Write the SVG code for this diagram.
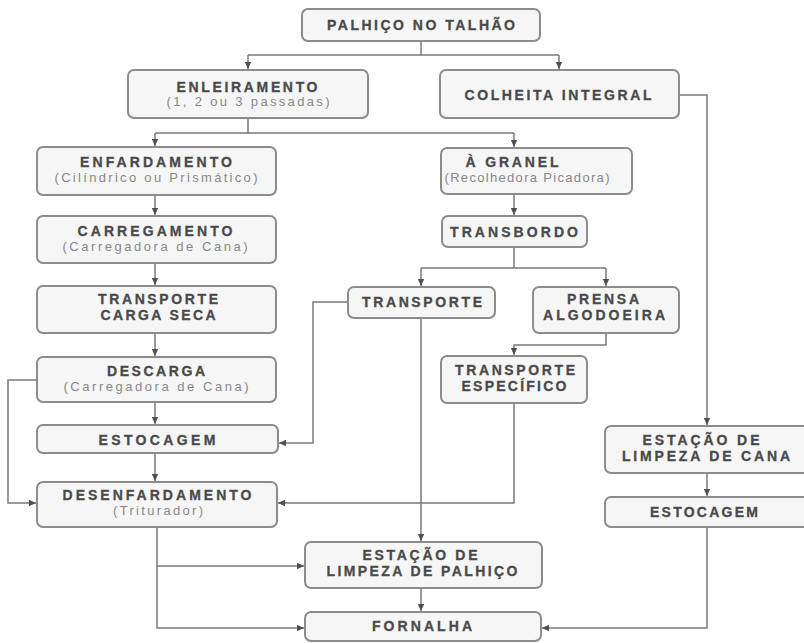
<svg xmlns="http://www.w3.org/2000/svg" width="804" height="643" viewBox="0 0 804 643">
<style>
.box{fill:#f6f6f6;stroke:#8c8c8c;stroke-width:2}
.t{font-family:"Liberation Sans",Arial,sans-serif;font-weight:bold;font-size:14px;fill:#4a4a4a;stroke:#4a4a4a;stroke-width:0.3;text-anchor:middle}
.s{font-family:"Liberation Sans",Arial,sans-serif;font-size:13px;fill:#888888;text-anchor:middle}
.c{fill:none;stroke:#7a7a7a;stroke-width:1.5}
</style>
<defs>
<marker id="ah" markerUnits="userSpaceOnUse" markerWidth="8" markerHeight="8" viewBox="0 0 8 8" refX="7" refY="4" orient="auto">
<path d="M0,0.8 L7,4 L0,7.2 Z" fill="#505050"/>
</marker>
</defs>
<rect width="804" height="643" fill="#ffffff"/>
<g id="connectors">
<path class="c" d="M421,41 V55 M248,55 H559"/>
<path class="c" d="M248,55 V69" marker-end="url(#ah)"/>
<path class="c" d="M559,55 V69" marker-end="url(#ah)"/>
<path class="c" d="M679,95 H707 V425" marker-end="url(#ah)"/>
<path class="c" d="M248,118 V133 M155,133 H514"/>
<path class="c" d="M155,133 V146" marker-end="url(#ah)"/>
<path class="c" d="M514,133 V147" marker-end="url(#ah)"/>
<path class="c" d="M155,195 V215" marker-end="url(#ah)"/>
<path class="c" d="M155,263 V285" marker-end="url(#ah)"/>
<path class="c" d="M155,333 V356" marker-end="url(#ah)"/>
<path class="c" d="M155,402 V424" marker-end="url(#ah)"/>
<path class="c" d="M155,453 V481" marker-end="url(#ah)"/>
<path class="c" d="M37,380 H8 V503 H36" marker-end="url(#ah)"/>
<path class="c" d="M514,194 V215" marker-end="url(#ah)"/>
<path class="c" d="M514,247 V268 M421,268 H606"/>
<path class="c" d="M421,268 V286" marker-end="url(#ah)"/>
<path class="c" d="M606,268 V286" marker-end="url(#ah)"/>
<path class="c" d="M348,302 H313 V443 H279" marker-end="url(#ah)"/>
<path class="c" d="M606,333 V345 H514 V355" marker-end="url(#ah)"/>
<path class="c" d="M514,403 V503 H278" marker-end="url(#ah)"/>
<path class="c" d="M421,318 V541" marker-end="url(#ah)"/>
<path class="c" d="M421,588 V611" marker-end="url(#ah)"/>
<path class="c" d="M157,527 V628 H304" marker-end="url(#ah)"/>
<path class="c" d="M157,566 H304" marker-end="url(#ah)"/>
<path class="c" d="M707,473 V496" marker-end="url(#ah)"/>
<path class="c" d="M707,527 V628 H542" marker-end="url(#ah)"/>
</g>
<g id="palhico-talhao">
<rect class="box" x="302" y="9" width="238" height="32" rx="6"/>
<text class="t" x="421" y="30" textLength="188" lengthAdjust="spacing">PALHIÇO NO TALHÃO</text>
</g>
<g id="enleiramento">
<rect class="box" x="128" y="70" width="240" height="48" rx="6"/>
<text class="t" x="247" y="92" textLength="141" lengthAdjust="spacing">ENLEIRAMENTO</text>
<text class="s" x="248" y="106" textLength="163" lengthAdjust="spacing">(1, 2 ou 3 passadas)</text>
</g>
<g id="colheita-integral">
<rect class="box" x="440" y="70" width="239" height="48" rx="6"/>
<text class="t" x="558" y="100" textLength="187" lengthAdjust="spacing">COLHEITA INTEGRAL</text>
</g>
<g id="enfardamento">
<rect class="box" x="37" y="147" width="239" height="48" rx="6"/>
<text class="t" x="156" y="167" textLength="152" lengthAdjust="spacing">ENFARDAMENTO</text>
<text class="s" x="156" y="182" textLength="203" lengthAdjust="spacing">(Cilíndrico ou Prismático)</text>
</g>
<g id="a-granel">
<rect class="box" x="441" y="148" width="191" height="46" rx="6"/>
<text class="t" x="512" y="167" textLength="93" lengthAdjust="spacing">À GRANEL</text>
<text class="s" x="527" y="182" textLength="165" lengthAdjust="spacing">(Recolhedora Picadora)</text>
</g>
<g id="carregamento">
<rect class="box" x="37" y="216" width="239" height="47" rx="6"/>
<text class="t" x="155" y="236" textLength="155" lengthAdjust="spacing">CARREGAMENTO</text>
<text class="s" x="155" y="251" textLength="185" lengthAdjust="spacing">(Carregadora de Cana)</text>
</g>
<g id="transbordo">
<rect class="box" x="442" y="216" width="145" height="31" rx="6"/>
<text class="t" x="514" y="237" textLength="128" lengthAdjust="spacing">TRANSBORDO</text>
</g>
<g id="transporte-carga-seca">
<rect class="box" x="37" y="286" width="239" height="47" rx="6"/>
<text class="t" x="158" y="304" textLength="120" lengthAdjust="spacing">TRANSPORTE</text>
<text class="t" x="158" y="320" textLength="115" lengthAdjust="spacing">CARGA SECA</text>
</g>
<g id="transporte">
<rect class="box" x="348" y="287" width="147" height="31" rx="6"/>
<text class="t" x="422" y="307" textLength="120" lengthAdjust="spacing">TRANSPORTE</text>
</g>
<g id="prensa-algodoeira">
<rect class="box" x="533" y="287" width="146" height="46" rx="6"/>
<text class="t" x="603" y="304" textLength="72" lengthAdjust="spacing">PRENSA</text>
<text class="t" x="604" y="320" textLength="122" lengthAdjust="spacing">ALGODOEIRA</text>
</g>
<g id="descarga">
<rect class="box" x="37" y="357" width="239" height="45" rx="6"/>
<text class="t" x="156" y="376" textLength="98" lengthAdjust="spacing">DESCARGA</text>
<text class="s" x="156" y="391" textLength="185" lengthAdjust="spacing">(Carregadora de Cana)</text>
</g>
<g id="transporte-especifico">
<rect class="box" x="441" y="356" width="146" height="47" rx="6"/>
<text class="t" x="515" y="375" textLength="120" lengthAdjust="spacing">TRANSPORTE</text>
<text class="t" x="514" y="391" textLength="105" lengthAdjust="spacing">ESPECÍFICO</text>
</g>
<g id="estocagem-1">
<rect class="box" x="37" y="425" width="241" height="28" rx="6"/>
<text class="t" x="157" y="445" textLength="117" lengthAdjust="spacing">ESTOCAGEM</text>
</g>
<g id="estacao-limpeza-cana">
<rect class="box" x="605" y="426" width="205" height="47" rx="6"/>
<text class="t" x="701" y="445" textLength="117" lengthAdjust="spacing">ESTAÇÃO DE</text>
<text class="t" x="706" y="461" textLength="168" lengthAdjust="spacing">LIMPEZA DE CANA</text>
</g>
<g id="desenfardamento">
<rect class="box" x="37" y="482" width="240" height="45" rx="6"/>
<text class="t" x="157" y="500" textLength="189" lengthAdjust="spacing">DESENFARDAMENTO</text>
<text class="s" x="158" y="515" textLength="90" lengthAdjust="spacing">(Triturador)</text>
</g>
<g id="estocagem-2">
<rect class="box" x="605" y="497" width="205" height="30" rx="6"/>
<text class="t" x="704" y="517" textLength="108" lengthAdjust="spacing">ESTOCAGEM</text>
</g>
<g id="estacao-limpeza-palhico">
<rect class="box" x="305" y="542" width="237" height="46" rx="6"/>
<text class="t" x="420" y="560" textLength="115" lengthAdjust="spacing">ESTAÇÃO DE</text>
<text class="t" x="422" y="576" textLength="191" lengthAdjust="spacing">LIMPEZA DE PALHIÇO</text>
</g>
<g id="fornalha">
<rect class="box" x="305" y="612" width="236" height="29" rx="6"/>
<text class="t" x="422" y="631" textLength="100" lengthAdjust="spacing">FORNALHA</text>
</g>
</svg>
